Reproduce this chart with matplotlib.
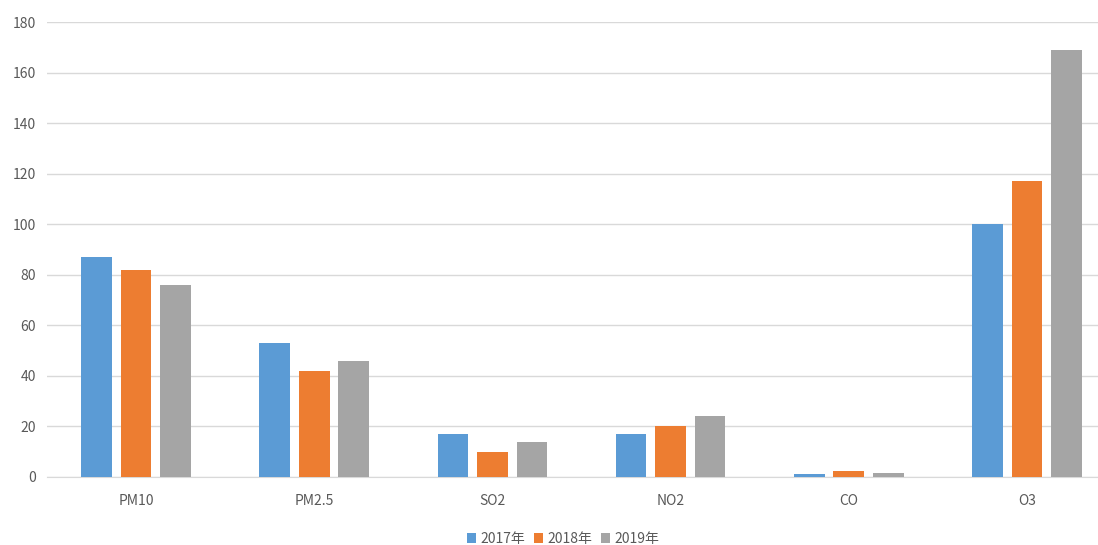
import matplotlib.pyplot as plt
import numpy as np

plt.rcParams['font.family'] = ['Noto Sans CJK SC', 'DejaVu Sans']

categories = ['PM10', 'PM2.5', 'SO2', 'NO2', 'CO', 'O3']
years = ['2017年', '2018年', '2019年']
v2017 = [87, 53, 17, 17, 1.0, 100]
v2018 = [82, 42, 10, 20, 2.2, 117]
v2019 = [76, 46, 14, 24, 1.7, 169]
colors = ['#5b9bd5', '#ed7d31', '#a5a5a5']

W, H = 1098, 545
fig = plt.figure(figsize=(W / 100, H / 100), dpi=100)
# axes spill past the right edge so the last group sits where it should
ax = fig.add_axes([47 / W, 68 / H, (1116 - 47) / W, (477 - 22) / H])

x = np.arange(len(categories))
step, width = 0.222, 0.172
for i, (vals, c, lab) in enumerate(zip([v2017, v2018, v2019], colors, years)):
    ax.bar(x + (i - 1) * step, vals, width, color=c, label=lab, zorder=3)

ax.set_xlim(-0.5, len(categories) - 0.5)
ax.set_ylim(0, 180)
ax.set_yticks(range(0, 181, 20))
ax.set_xticks(x)
ax.set_xticklabels(categories)
ax.yaxis.grid(True, color='#d9d9d9', linewidth=1)
ax.set_axisbelow(True)
for s in ['top', 'right', 'left']:
    ax.spines[s].set_visible(False)
ax.spines['bottom'].set_color('#d9d9d9')
ax.tick_params(axis='both', length=0, labelsize=10, colors='#595959')
ax.tick_params(axis='x', pad=12)
ax.tick_params(axis='y', pad=8)

handles, labels = ax.get_legend_handles_labels()
fig.legend(handles, labels, loc='center', bbox_to_anchor=(563 / W, 6 / H),
           ncol=3, frameon=False, fontsize=10, labelcolor='#595959',
           handlelength=0.7, handleheight=0.7, handletextpad=0.3,
           columnspacing=0.6)

fig.savefig('out.png', dpi=100)
